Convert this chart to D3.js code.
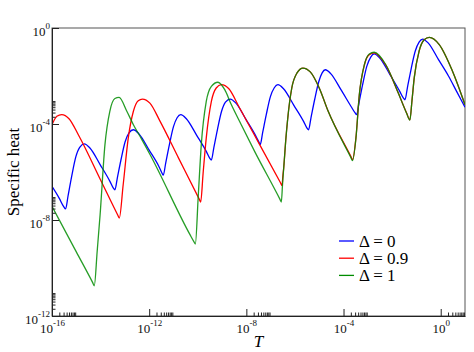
<!DOCTYPE html>
<html>
<head>
<meta charset="utf-8">
<script src="https://cdn.jsdelivr.net/npm/d3@7"></script>
<style>
  body { margin: 0; background: #fff; }
  svg { display: block; }
  svg text { font-family: "Liberation Serif", "Times New Roman", serif; }
</style>
</head>
<body>
<svg id="chart" width="474" height="352"></svg>
<script>
// tick exponents
const xMajorExp = [-16, -12, -8, -4, 0];
const yMajorExp = [-12, -8, -4, 0];
const minorMult = [2, 3, 4, 5, 6, 7, 8, 9];

const seriesNames = ["Δ = 0", "Δ = 0.9", "Δ = 1"];
const seriesColors = ["#0000ff", "#ff0000", "#008c00"];

// [log10 T, log10 C]
const delta0 = [
  [-16.0, -6.6], [-15.7, -7.1], [-15.52, -7.44], [-15.44, -7.54],
  [-15.34, -7.0], [-15.19, -6.18], [-15.02, -5.37], [-14.86, -4.97], [-14.67, -4.83],
  [-14.44, -5.0], [-14.02, -5.69], [-13.61, -6.40], [-13.48, -6.66], [-13.41, -6.74],
  [-13.31, -6.24], [-13.16, -5.49], [-12.99, -4.74], [-12.83, -4.37], [-12.65, -4.24],
  [-12.42, -4.41], [-12.0, -5.09], [-11.59, -5.79], [-11.47, -6.05], [-11.42, -6.13],
  [-11.32, -5.63], [-11.17, -4.87], [-11.0, -4.11], [-10.85, -3.74], [-10.70, -3.61],
  [-10.47, -3.78], [-10.05, -4.46], [-9.64, -5.16], [-9.51, -5.42], [-9.44, -5.5],
  [-9.34, -4.99], [-9.19, -4.23], [-9.02, -3.47], [-8.86, -3.09], [-8.66, -2.96],
  [-8.43, -3.13], [-8.01, -3.82], [-7.60, -4.52], [-7.47, -4.78], [-7.43, -4.86],
  [-7.33, -4.36], [-7.18, -3.61], [-7.01, -2.86], [-6.85, -2.49], [-6.70, -2.36],
  [-6.47, -2.53], [-6.05, -3.21], [-5.64, -3.90], [-5.51, -4.16], [-5.44, -4.24],
  [-5.34, -3.74], [-5.19, -2.99], [-5.02, -2.24], [-4.88, -1.87], [-4.75, -1.74],
  [-4.52, -1.91], [-4.10, -2.58], [-3.69, -3.27], [-3.53, -3.53], [-3.46, -3.61],
  [-3.36, -3.10], [-3.21, -2.34], [-3.04, -1.59], [-2.88, -1.21], [-2.74, -1.08],
  [-2.51, -1.25], [-2.09, -1.94], [-1.68, -2.65], [-1.54, -2.91], [-1.47, -2.99],
  [-1.37, -2.48], [-1.22, -1.72], [-1.05, -0.97], [-0.89, -0.59], [-0.74, -0.46],
  [-0.51, -0.63], [-0.09, -1.32], [0.32, -2.0], [0.66, -2.65], [1.0, -3.3]
];

const delta09 = [
  [-16.0, -4.03], [-15.8, -3.68], [-15.6, -3.61], [-15.3, -3.78], [-14.9, -4.48],
  [-14.0, -6.33], [-13.30, -7.78], [-13.23, -7.92],
  [-13.07, -6.53], [-12.86, -4.58], [-12.65, -3.47], [-12.45, -3.03], [-12.28, -2.96],
  [-11.97, -3.13], [-11.55, -3.89], [-10.8, -5.4], [-9.95, -7.11], [-9.88, -7.25],
  [-9.78, -6.05], [-9.65, -4.58], [-9.44, -3.06], [-9.24, -2.5], [-9.03, -2.36],
  [-8.72, -2.53], [-8.3, -3.29], [-7.43, -4.9], [-6.60, -6.44], [-6.53, -6.57],
  [-6.50, -6.2], [-6.46, -5.8], [-6.38, -4.7], [-6.30, -3.8], [-6.13, -2.5], [-5.92, -1.88], [-5.67, -1.67],
  [-5.36, -1.84], [-5.0, -2.5], [-4.64, -3.45], [-3.70, -5.35], [-3.63, -5.49],
  [-3.49, -4.58], [-3.35, -2.78], [-3.14, -1.53], [-2.94, -1.11], [-2.74, -1.04],
  [-2.26, -1.55], [-1.75, -2.7], [-1.40, -3.55], [-1.27, -3.83],
  [-1.18, -3.0], [-1.09, -2.08], [-0.89, -0.97], [-0.68, -0.49], [-0.47, -0.39],
  [-0.06, -0.69], [0.49, -1.81], [1.0, -3.2]
];

const delta1 = [
  [-16.0, -7.43], [-15.0, -9.33], [-14.33, -10.6], [-14.26, -10.74],
  [-14.14, -9.3], [-14.02, -7.78], [-13.82, -4.86], [-13.62, -3.47], [-13.41, -2.94], [-13.24, -2.89],
  [-12.92, -3.47], [-12.65, -4.03], [-12.30, -4.65], [-11.96, -5.28], [-10.32, -8.61], [-10.16, -8.9], [-10.1, -9.0],
  [-9.98, -7.0], [-9.855, -4.86], [-9.65, -3.06], [-9.44, -2.43], [-9.17, -2.26],
  [-8.89, -2.57], [-8.62, -3.19], [-8.21, -4.03], [-7.66, -5.14], [-6.62, -7.13], [-6.56, -7.25],
  [-6.51, -6.5], [-6.46, -5.8], [-6.38, -4.7], [-6.30, -3.8], [-6.13, -2.5], [-5.92, -1.88], [-5.67, -1.67],
  [-5.36, -1.84], [-5.0, -2.5], [-4.64, -3.45], [-3.70, -5.39], [-3.63, -5.53],
  [-3.49, -4.6], [-3.35, -2.78], [-3.14, -1.52], [-2.94, -1.08], [-2.74, -1.01],
  [-2.26, -1.53], [-1.75, -2.7], [-1.40, -3.56], [-1.27, -3.84],
  [-1.18, -3.0], [-1.09, -2.08], [-0.89, -0.97], [-0.68, -0.49], [-0.47, -0.39],
  [-0.06, -0.69], [0.49, -1.81], [1.0, -3.2]
];

const allSeries = [delta0, delta09, delta1];

const width = 474, height = 352;
const margin = { top: 28, right: 9, bottom: 36, left: 52 };
const svg = d3.select("#chart");

const x = d3.scaleLog()
    .domain([1e-16, 10])
    .range([margin.left, width - margin.right]);
const y = d3.scaleLog()
    .domain([1e-12, 1])
    .range([height - margin.bottom, margin.top]);

const xMajors = xMajorExp.map(e => Math.pow(10, e));
const yMajors = yMajorExp.map(e => Math.pow(10, e));
const xMinors = xMajorExp.flatMap(e => minorMult.map(m => m * Math.pow(10, e))).filter(v => v <= 10);
const yMinors = yMajorExp.flatMap(e => minorMult.map(m => m * Math.pow(10, e))).filter(v => v < 1);

svg.append("clipPath").attr("id", "plotclip")
  .append("rect")
    .attr("x", margin.left).attr("y", margin.top)
    .attr("width", width - margin.left - margin.right)
    .attr("height", height - margin.top - margin.bottom);

// frame
svg.append("rect")
    .attr("x", margin.left).attr("y", margin.top)
    .attr("width", width - margin.left - margin.right)
    .attr("height", height - margin.top - margin.bottom)
    .attr("fill", "none")
    .attr("stroke", "#555")
    .attr("stroke-width", 1);

const line = d3.line()
    .x(d => x(Math.pow(10, d[0])))
    .y(d => y(Math.pow(10, d[1])))
    .curve(d3.curveMonotoneX);

svg.append("g")
    .attr("clip-path", "url(#plotclip)")
  .selectAll("path")
  .data(allSeries)
  .join("path")
    .attr("d", line)
    .attr("fill", "none")
    .attr("stroke", (d, i) => seriesColors[i])
    .attr("stroke-opacity", (d, i) => i === 2 ? 0.85 : 1)
    .attr("stroke-width", 1.3)
    .attr("stroke-linejoin", "round");

function superLabels(sel) {
  sel.selectAll(".tick text").each(function(d) {
    const t = d3.select(this);
    t.text(null);
    t.append("tspan").text("10");
    t.append("tspan")
      .attr("dy", -7)
      .attr("font-size", "9px")
      .text(Math.round(Math.log10(d)));
  });
}

// x axis
svg.append("g")
    .attr("transform", `translate(0,${height - margin.bottom})`)
    .call(d3.axisBottom(x).tickValues(xMinors).tickSize(-3.5).tickSizeOuter(0).tickFormat(""))
    .call(g => g.select(".domain").remove());
svg.append("g")
    .attr("transform", `translate(0,${height - margin.bottom})`)
    .call(d3.axisBottom(x).tickValues(xMajors).tickSize(-7).tickSizeOuter(0).tickPadding(8))
    .attr("font-size", "13px")
    .call(superLabels);

// y axis
svg.append("g")
    .attr("transform", `translate(${margin.left},0)`)
    .call(d3.axisLeft(y).tickValues(yMinors).tickSize(-3.5).tickSizeOuter(0).tickFormat(""))
    .call(g => g.select(".domain").remove());
svg.append("g")
    .attr("transform", `translate(${margin.left},0)`)
    .call(d3.axisLeft(y).tickValues(yMajors).tickSize(-7).tickSizeOuter(0).tickPadding(2))
    .attr("font-size", "13px")
    .call(g => g.selectAll(".tick text").attr("dy", "0.55em"))
    .call(superLabels);

svg.selectAll(".domain, .tick line").attr("stroke", "#222");
svg.selectAll(".tick text").attr("fill", "#111");

// axis titles
svg.append("text")
    .attr("transform", `translate(19,${(margin.top + height - margin.bottom) / 2}) rotate(-90)`)
    .attr("text-anchor", "middle")
    .attr("font-size", "17px")
    .text("Specific heat");

svg.append("text")
    .attr("x", (margin.left + width - margin.right) / 2)
    .attr("y", 347)
    .attr("text-anchor", "middle")
    .attr("font-size", "17px")
    .attr("font-style", "italic")
    .text("T");

// legend
const legend = svg.append("g").attr("transform", "translate(339,241)");
const rows = legend.selectAll("g")
  .data(seriesNames)
  .join("g")
    .attr("transform", (d, i) => `translate(0,${i * 17.2})`);
rows.append("line")
    .attr("x1", 0).attr("x2", 15)
    .attr("stroke", (d, i) => seriesColors[i])
    .attr("stroke-width", 1.3);
rows.append("text")
    .attr("x", 20)
    .attr("dy", 5.5)
    .attr("font-size", "17px")
    .text(d => d);
</script>
</body>
</html>
